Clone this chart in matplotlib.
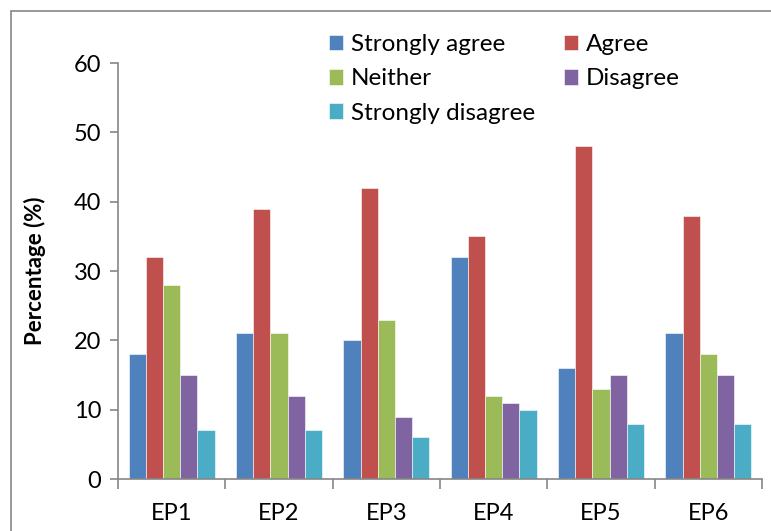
import matplotlib
matplotlib.use('Agg')
import matplotlib.pyplot as plt
import numpy as np
from matplotlib.patches import Rectangle

categories = ['EP1', 'EP2', 'EP3', 'EP4', 'EP5', 'EP6']
series_names = ['Strongly agree', 'Agree', 'Neither', 'Disagree', 'Strongly disagree']
strongly_agree = [18, 21, 20, 32, 16, 21]
agree = [32, 39, 42, 35, 48, 38]
neither = [28, 21, 23, 12, 13, 18]
disagree = [15, 12, 9, 11, 15, 15]
strongly_disagree = [7, 7, 6, 10, 8, 8]
colors = ['#4F81BD', '#C0504D', '#9BBB59', '#8064A2', '#4BACC6']

plt.rcParams['font.family'] = ['Lato', 'DejaVu Sans']

fig = plt.figure(figsize=(7.71, 5.31), dpi=100)
ax = fig.add_axes([118/771, 52/531, 644/771, 416/531])

series = [strongly_agree, agree, neither, disagree, strongly_disagree]
x = np.arange(len(categories))
w = 0.16
bars = []
for i, (name, vals) in enumerate(zip(series_names, series)):
    b = ax.bar(x + (i - 2) * w, vals, width=w, color=colors[i], label=name,
               edgecolor='white', linewidth=0.4)
    bars.append(b)

ax.set_xlim(-0.5, len(categories) - 0.5)
ax.set_ylim(0, 60)
ax.set_yticks(range(0, 61, 10))
ax.set_xticks(x)
ax.set_xticklabels(categories)
ax.set_xticks(np.arange(-0.5, len(categories)), minor=True)
ax.tick_params(axis='x', which='major', length=0, labelsize=17, pad=17)
ax.tick_params(axis='x', which='minor', length=7, color='#868686', width=1.2)
ax.tick_params(axis='y', length=6, color='#868686', width=1.2, labelsize=17, pad=6)
for s in ['top', 'right']:
    ax.spines[s].set_visible(False)
for s in ['left', 'bottom']:
    ax.spines[s].set_color('#868686')
    ax.spines[s].set_linewidth(1.2)

ax.set_ylabel('Percentage (%)', fontsize=16, fontweight='bold', labelpad=20)

# row-major order like the original legend
order = [0, 2, 4, 1, 3]
ax.legend([bars[i] for i in order], [series_names[i] for i in order],
          loc='upper left', bbox_to_anchor=(0.312, 1.093), ncol=2, frameon=False,
          fontsize=17.5, handlelength=0.6, handleheight=0.6, handletextpad=0.3,
          columnspacing=1.2, labelspacing=0.55, borderaxespad=0)

fig.patches.append(Rectangle((11/771, -0.1), 1.2, (531 - 11)/531 + 0.1,
                             transform=fig.transFigure, fill=False,
                             edgecolor='#868686', linewidth=1.2))

fig.savefig('out.png', dpi=100)
